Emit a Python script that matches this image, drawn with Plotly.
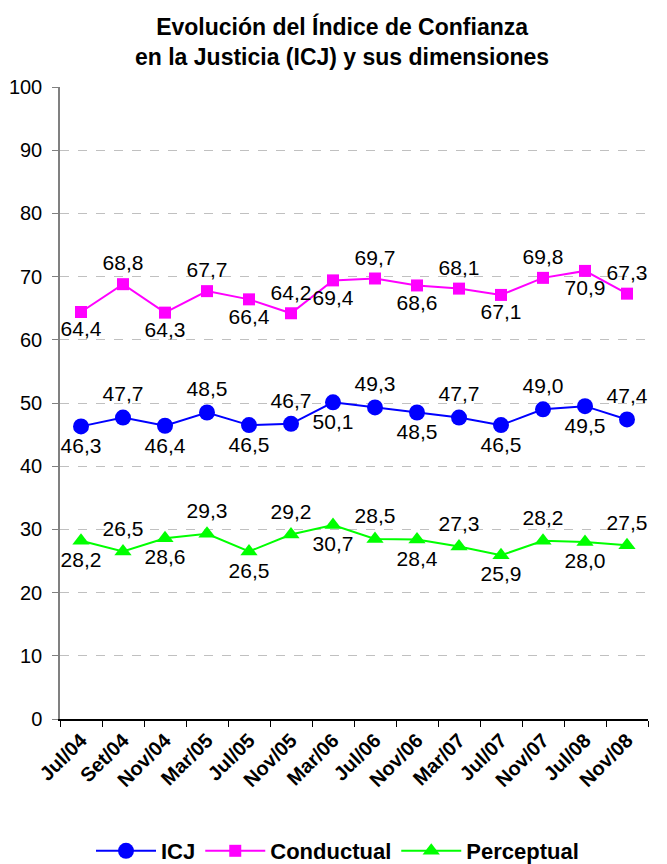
import plotly.graph_objects as go

categories = ["Jul/04", "Set/04", "Nov/04", "Mar/05", "Jul/05", "Nov/05", "Mar/06",
              "Jul/06", "Nov/06", "Mar/07", "Jul/07", "Nov/07", "Jul/08", "Nov/08"]
icj = [46.3, 47.7, 46.4, 48.5, 46.5, 46.7, 50.1, 49.3, 48.5, 47.7, 46.5, 49.0, 49.5, 47.4]
conductual = [64.4, 68.8, 64.3, 67.7, 66.4, 64.2, 69.4, 69.7, 68.6, 68.1, 67.1, 69.8, 70.9, 67.3]
perceptual = [28.2, 26.5, 28.6, 29.3, 26.5, 29.2, 30.7, 28.5, 28.4, 27.3, 25.9, 28.2, 28.0, 27.5]
y_ticks = [0, 10, 20, 30, 40, 50, 60, 70, 80, 90, 100]

FONT = "Liberation Sans, Arial, sans-serif"

def fmt(v):
    return f"{v:.1f}".replace(".", ",")

positions = ["bottom center" if i % 2 == 0 else "top center" for i in range(len(categories))]

fig = go.Figure()
series = [
    ("ICJ", icj, "#0000FF", "circle", 16),
    ("Conductual", conductual, "#FF00FF", "square", 12),
    ("Perceptual", perceptual, "#00FF00", "triangle-up", 15),
]
for name, vals, color, sym, size in series:
    fig.add_trace(go.Scatter(
        x=categories, y=vals, name=name, mode="lines+markers+text",
        line=dict(color=color, width=2),
        marker=dict(color=color, symbol=sym, size=size),
        text=[fmt(v) for v in vals], textposition=positions,
        textfont=dict(family=FONT, size=21, color="black"),
        cliponaxis=False,
    ))

# page body has an 8px margin, so the figure is sized/offset to compensate
W, H = 659, 864
ML, MR, MT, MB = 52, 19, 79, 153
plot_h = H - MT - MB

fig.add_annotation(
    text="<b>Evolución del Índice de Confianza<br>en la Justicia (ICJ) y sus dimensiones</b>",
    xref="paper", yref="paper", x=0.48, y=1 + 46 / plot_h,
    xanchor="center", yanchor="middle", showarrow=False,
    font=dict(family=FONT, size=23, color="black"),
)

fig.update_layout(
    width=W, height=H,
    margin=dict(l=ML, r=MR, t=MT, b=MB),
    paper_bgcolor="white", plot_bgcolor="white",
    showlegend=True,
    legend=dict(orientation="h", x=0.5, xanchor="center", xref="container",
                y=0.0, yref="container", yanchor="bottom",
                font=dict(family=FONT, size=22, color="black", weight="bold"),
                itemwidth=60),
    font=dict(family=FONT, color="black"),
)
fig.update_xaxes(
    type="category", tickangle=-45, tickson="boundaries",
    ticks="outside", ticklen=6, tickcolor="black",
    showline=True, linecolor="black", linewidth=1.5,
    showgrid=False, range=[-0.5, len(categories) - 0.5], automargin=False,
    tickfont=dict(family=FONT, size=20, color="black", weight="bold"),
)
fig.update_yaxes(
    range=[0, 100], tickvals=y_ticks,
    ticks="outside", ticklen=6, tickcolor="#808080", ticklabelstandoff=6,
    showline=True, linecolor="#808080", linewidth=1.5,
    showgrid=True, gridcolor="#C0C0C0", griddash="dash", gridwidth=1,
    zeroline=False, automargin=False,
    tickfont=dict(family=FONT, size=20, color="black"),
)

fig.write_html("out.html")
